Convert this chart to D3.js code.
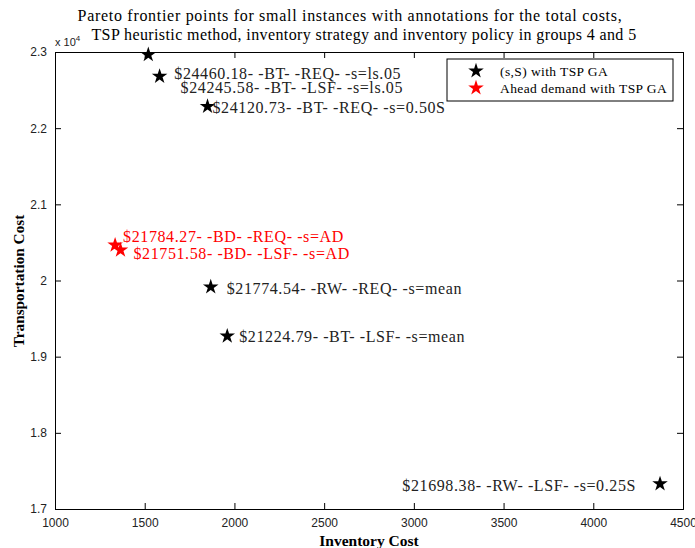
<!DOCTYPE html>
<html>
<head>
<meta charset="utf-8">
<script src="https://cdn.jsdelivr.net/npm/d3@7"></script>
<style>
  html, body { margin: 0; padding: 0; background: #fff; }
  svg { display: block; }
</style>
</head>
<body>
<svg id="chart" width="695" height="548"></svg>
<script>
// Pareto frontier points: inventory cost (x), transportation cost (y)
const inventoryCost = [1520, 1583, 1850, 1335, 1365, 1868, 1960, 4372];
const transportCost = [22965, 22680, 22285, 20465, 20400, 19915, 19270, 17330];
const group = ["sS", "sS", "sS", "AD", "AD", "sS", "sS", "sS"];
const annotations = [
  "$24460.18- -BT- -REQ- -s=ls.05",
  "$24245.58- -BT- -LSF- -s=ls.05",
  "$24120.73- -BT- -REQ- -s=0.50S",
  "$21784.27- -BD- -REQ- -s=AD",
  "$21751.58- -BD- -LSF- -s=AD",
  "$21774.54- -RW- -REQ- -s=mean",
  "$21224.79- -BT- -LSF- -s=mean",
  "$21698.38- -RW- -LSF- -s=0.25S"
];
const xTicks = [1000, 1500, 2000, 2500, 3000, 3500, 4000, 4500];
const yTicks = [17000, 18000, 19000, 20000, 21000, 22000, 23000];
const legendLabels = ["(s,S) with TSP GA", "Ahead demand with TSP GA"];
const legendGroups = ["sS", "AD"];

(function () {
  const svg = d3.select("#chart");
  const plot = { left: 55, right: 683, top: 52, bottom: 509 };
  const x = d3.scaleLinear().domain([1000, 4500]).range([plot.left, plot.right]);
  const y = d3.scaleLinear().domain([17000, 23000]).range([plot.bottom, plot.top]);
  const color = d3.scaleOrdinal().domain(["sS", "AD"]).range(["#000000", "#ff0000"]);

  const serif = "'Liberation Serif', 'Times New Roman', serif";
  const sans = "'Liberation Sans', Arial, sans-serif";
  const tickLen = 6;

  // Title
  const title = svg.append("text")
    .attr("text-anchor", "middle")
    .attr("font-family", serif).attr("font-size", 16).attr("fill", "#000");
  title.append("tspan").attr("x", 350).attr("y", 21).attr("letter-spacing", 0.7)
    .text("Pareto frontier points for small instances with annotations for the total costs,");
  title.append("tspan").attr("x", 364).attr("y", 40).attr("letter-spacing", 0.4)
    .text("TSP heuristic method, inventory strategy and inventory policy in groups 4 and 5");

  // Axes, ticks pointing inward on all four sides
  const axBottom = d3.axisBottom(x).tickValues(xTicks).tickSize(-tickLen).tickPadding(9).tickFormat(d3.format("d"));
  const axTop = d3.axisTop(x).tickValues(xTicks).tickSize(-tickLen).tickFormat("");
  const axLeft = d3.axisLeft(y).tickValues(yTicks).tickSize(-tickLen).tickPadding(8).tickFormat(d => d3.format("~g")(d / 1e4));
  const axRight = d3.axisRight(y).tickValues(yTicks).tickSize(-tickLen).tickFormat("");

  function style(g) {
    g.select(".domain").attr("stroke", "#000").attr("stroke-width", 1);
    g.selectAll(".tick line").attr("stroke", "#000");
    g.selectAll("text").attr("fill", "#222").attr("font-family", sans).attr("font-size", 12);
  }
  svg.append("g").attr("transform", `translate(0,${plot.bottom})`).call(axBottom).call(style);
  svg.append("g").attr("transform", `translate(0,${plot.top})`).call(axTop).call(style);
  svg.append("g").attr("transform", `translate(${plot.left},0)`).call(axLeft).call(style);
  svg.append("g").attr("transform", `translate(${plot.right},0)`).call(axRight).call(style);

  // Exponent label
  const expo = svg.append("text").attr("x", 55).attr("y", 46)
    .attr("font-family", sans).attr("font-size", 11).attr("fill", "#222");
  expo.append("tspan").text("x 10");
  expo.append("tspan").attr("dy", -5).attr("font-size", 8).text("4");

  // Axis titles
  svg.append("text").attr("x", 369).attr("y", 546)
    .attr("text-anchor", "middle").attr("font-family", serif).attr("font-weight", "bold")
    .attr("font-size", 15.5).text("Inventory Cost");
  svg.append("text").attr("transform", "translate(24,281) rotate(-90)")
    .attr("text-anchor", "middle").attr("font-family", serif).attr("font-weight", "bold")
    .attr("font-size", 15.3).text("Transportation Cost");

  // Points
  const star = d3.symbol().type(d3.symbolStar).size(75);
  const idx = d3.range(inventoryCost.length);
  svg.append("g").selectAll("path").data(idx).join("path")
    .attr("d", star)
    .attr("transform", i => `translate(${x(inventoryCost[i])},${y(transportCost[i])})`)
    .attr("fill", i => color(group[i]));

  // Annotations, offset in pixels from each point
  const labelOffsets = [[26, 19], [21, 11], [5, 1], [8, -9], [13, 3], [16, 1], [12, 0], [-24, 2]];
  svg.append("g").selectAll("text").data(idx).join("text")
    .attr("x", i => x(inventoryCost[i]) + labelOffsets[i][0])
    .attr("y", i => y(transportCost[i]) + labelOffsets[i][1])
    .attr("dy", "0.35em")
    .attr("text-anchor", i => labelOffsets[i][0] < 0 ? "end" : "start")
    .attr("font-family", serif).attr("font-size", 16).attr("letter-spacing", 0.6)
    .attr("fill", i => group[i] === "AD" ? "#ff0000" : "#222")
    .text(i => annotations[i]);

  // Legend
  const lg = svg.append("g").attr("transform", "translate(447,59)");
  lg.append("rect").attr("width", 226).attr("height", 42)
    .attr("fill", "#fff").attr("stroke", "#000").attr("stroke-width", 1);
  legendLabels.forEach((lab, k) => {
    lg.append("path").attr("d", star)
      .attr("transform", `translate(29,${12 + k * 17})`)
      .attr("fill", color(legendGroups[k]));
    lg.append("text").attr("x", 53).attr("y", 12 + k * 17).attr("dy", "0.35em")
      .attr("font-family", serif).attr("font-size", 13.5).attr("letter-spacing", 0.4)
      .attr("fill", "#000").text(lab);
  });
})();
</script>
</body>
</html>
